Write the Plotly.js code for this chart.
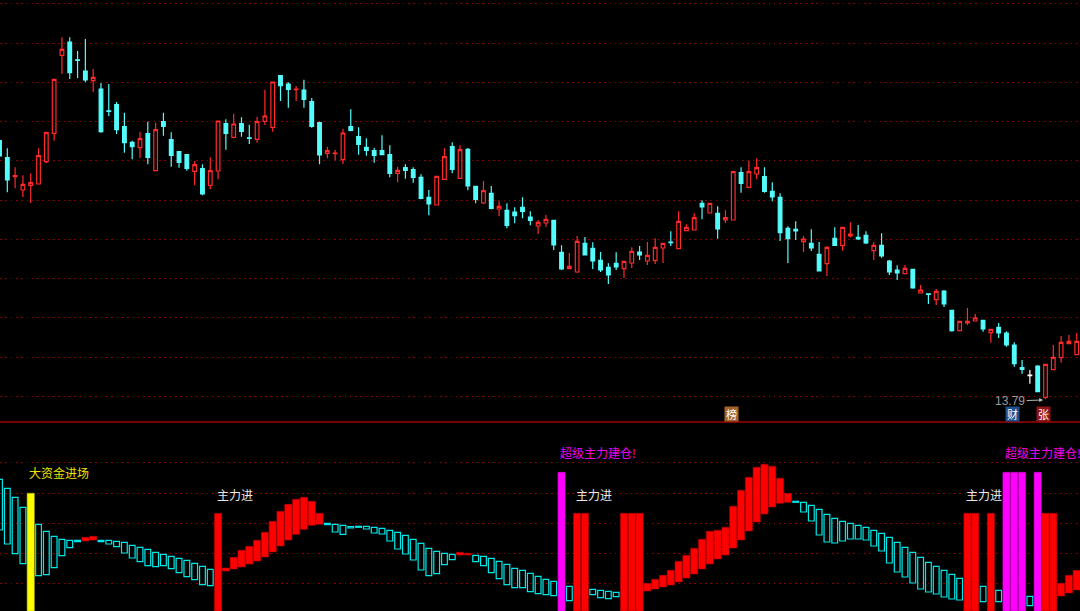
<!DOCTYPE html>
<html><head><meta charset="utf-8">
<script src="https://cdn.plot.ly/plotly-3.0.1.min.js"></script>
<style>html,body{margin:0;padding:0;background:#000;overflow:hidden}#c{width:1080px;height:611px}</style>
</head><body><div id="c"></div>
<script>
const high=[39.50,38.67,36.77,35.97,36.17,38.67,40.33,45.57,49.77,49.77,48.40,49.60,46.60,45.20,45.10,43.30,42.23,39.43,40.33,41.33,41.23,42.23,40.27,38.37,38.07,37.40,37.07,37.77,41.43,41.57,42.13,41.77,41.03,41.83,44.53,45.30,45.97,45.27,44.90,45.53,43.70,41.33,38.83,38.53,40.63,42.57,40.77,39.67,38.73,39.97,38.97,36.83,37.07,36.77,36.07,34.50,35.93,38.67,39.27,38.97,38.70,34.90,35.40,34.90,33.37,33.17,32.77,33.77,32.37,31.50,32.00,31.50,28.97,28.20,29.90,29.80,29.27,28.30,27.17,28.27,27.37,28.77,28.90,29.30,29.67,29.17,30.37,32.37,31.07,32.17,33.47,33.17,32.87,32.47,36.33,36.77,37.40,37.67,36.77,35.27,34.17,30.87,31.37,29.90,30.57,29.30,28.87,30.77,30.77,31.27,31.00,30.37,29.27,30.17,27.50,26.97,27.00,26.60,25.00,24.17,24.60,24.47,22.53,21.37,22.70,22.10,21.50,20.57,21.20,20.37,19.27,17.50,16.50,16.97,17.07,19.00,19.90,20.00,20.20];
const bodyTop=[39.43,37.73,35.93,35.07,35.23,37.93,40.23,45.57,48.57,49.30,47.52,46.40,45.77,44.60,42.42,43.03,40.83,39.27,39.63,40.13,40.53,41.33,39.53,38.33,38.03,37.03,36.63,36.43,41.40,41.13,41.10,41.13,39.72,41.33,41.90,45.30,45.93,45.10,44.60,44.50,43.33,41.23,38.43,38.20,40.20,40.83,39.83,38.77,38.43,38.43,38.03,36.47,36.73,36.53,35.77,33.77,35.87,37.83,38.83,38.53,38.57,34.87,34.43,34.17,32.87,32.47,32.30,32.77,31.80,31.27,31.57,31.47,28.27,26.87,29.37,29.17,28.67,27.47,26.77,27.17,27.37,28.37,28.30,27.97,28.77,29.17,29.30,31.37,30.77,31.73,33.17,33.17,32.17,31.73,36.33,36.23,36.33,36.73,35.83,34.37,33.77,30.67,30.57,29.60,29.17,28.07,28.77,29.67,30.77,30.10,29.77,29.97,28.97,28.97,27.40,26.50,26.67,26.57,24.50,24.12,24.37,24.40,22.47,21.37,21.37,21.70,21.47,20.57,20.77,20.20,19.00,16.73,16.00,16.90,17.07,17.77,19.27,19.37,19.37];
const bodyBottom=[37.90,35.50,35.83,34.50,34.97,35.10,37.33,40.17,47.97,46.23,47.47,45.50,45.43,40.33,42.37,40.53,39.23,38.83,38.73,37.77,36.43,40.87,37.97,37.27,36.67,36.37,34.10,34.97,36.40,40.17,39.77,40.37,39.67,39.57,41.37,40.77,44.93,44.57,44.54,43.57,40.87,38.00,38.17,38.14,37.53,40.47,39.07,38.47,37.97,38.03,36.17,36.17,36.47,35.77,33.67,33.10,33.00,35.57,36.57,35.67,34.90,33.57,33.20,32.67,32.60,30.97,31.93,32.37,31.47,30.90,31.20,29.00,26.60,26.63,26.30,28.00,27.40,26.50,26.00,26.80,26.63,27.20,28.00,27.40,27.43,28.70,29.24,28.63,30.43,30.50,32.80,32.20,30.60,31.50,31.50,35.17,34.77,36.10,34.37,33.80,30.23,29.63,30.40,29.33,28.70,26.40,27.13,28.97,28.93,29.90,29.60,29.20,28.43,27.90,26.30,26.20,26.13,24.70,24.20,24.06,23.53,23.10,20.43,20.43,21.20,21.40,20.60,20.23,20.20,19.00,17.13,16.57,15.94,14.33,13.77,16.53,17.73,19.13,18.03];
const low=[37.80,34.27,34.67,33.80,33.20,35.10,37.17,39.43,46.10,45.60,45.70,45.30,44.30,40.23,41.90,40.10,38.23,37.57,37.70,37.07,36.40,39.93,36.83,36.73,36.43,34.97,33.97,34.57,35.57,38.53,39.67,39.83,39.10,39.23,41.00,40.33,43.40,42.73,43.40,42.73,40.73,37.07,37.67,37.47,37.10,40.37,38.03,37.93,37.23,37.97,35.77,35.27,35.63,35.23,33.57,31.97,33.00,35.50,36.17,35.63,34.47,33.17,33.10,32.57,31.87,30.67,31.17,31.67,30.97,30.10,30.80,28.50,26.50,26.60,26.23,27.97,26.60,26.30,25.10,26.50,25.70,26.70,27.50,27.00,27.10,27.20,28.90,28.60,30.40,30.47,31.57,32.17,29.63,31.20,31.47,34.23,34.67,35.57,34.23,33.37,29.40,27.20,29.50,28.30,28.40,26.37,25.90,28.90,28.43,29.77,29.50,29.10,27.50,27.73,26.00,25.50,26.10,24.63,24.17,23.10,23.00,22.80,20.33,20.40,21.00,21.37,20.33,19.23,19.70,18.83,16.83,16.13,15.13,14.30,13.57,16.50,17.23,19.07,17.97];
const risingDays=[2,3,4,5,6,7,8,12,18,20,25,27,28,30,33,34,35,38,42,43,44,51,56,57,59,62,64,69,70,73,74,80,81,83,84,85,87,88,89,91,93,94,96,97,103,106,108,109,112,116,118,120,123,124,125,127,134,135,136,137,138];
const whiteDay=132;
const indTop=[131.7,122.7,113.7,103.7,117.7,86.7,79.7,74.7,71.7,70.7,70.7,73.7,74.7,70.7,70.7,69.7,68.7,65.7,63.7,61.7,58.7,56.7,54.7,52.7,50.7,47.7,44.7,41.7,97.7,43,53.7,60.7,64.7,70.7,78.7,89.7,99.7,106.7,111.7,113.7,109.7,97.7,87.7,86.7,85.7,84.3,84.7,84.7,83.7,82.7,80.7,78.7,75.7,71.7,67.7,62.7,59.7,57.7,56.7,58.7,57.7,55.7,54.7,52.7,49.7,46.7,42.7,40.7,37.7,34.7,31.7,29.7,138.7,24.7,97.7,97.7,21.7,20.7,19.7,18.7,97.7,97.7,97.7,27.7,31.7,35.7,40.7,49.7,55.7,62.7,71.7,79.7,80.7,83.7,104.7,120.7,133.7,143.7,146.7,144.7,132.7,117.7,109.7,108.7,105.7,101.7,96.7,92.7,89.7,87.7,85.7,83.7,80.7,77.7,73.7,68.7,63.7,58.7,53.7,48.7,44.7,40.7,36.7,32.7,97.7,97.7,24.7,97.7,20.7,138.7,138.7,138.7,14.7,138.7,97.7,97.7,27.7,35.7,40.7];
const indBottom=[81,67,57.3,47.3,0,35.3,36.3,43.3,55.3,63.3,69.3,70,71,69.3,67,64.3,58,53,49.3,45.3,44.3,45.3,42.3,38.3,34.3,31.3,26.3,25.3,0,40,42,44,47,50,54,59,65,71,76.7,81.7,85.7,86.7,86.3,79,76.7,83,83.7,82,78,77,70,62,57,51,41,35.3,37.3,46.3,51.3,56,56,49.3,45.3,38.3,32.3,26.3,23.3,23.3,19.3,17.3,16.3,15.3,0,10.3,0,0,16.3,13.3,12.3,14.3,0,0,0,20,22,24,26,29,33,37,42,47,52,56,63,71,80,89,97,104,107.7,108.7,108.7,99,90,76,69,68,70,72,72,71,65,60,48,39,34,28,22,19,17,14,12,11,0,0,9.3,0,9.3,0,0,0,5.3,0,0,0,15,18,21];
const indRed=[11,12,28,29,30,31,32,33,34,35,36,37,38,39,40,41,59,60,74,75,80,81,82,83,84,85,86,87,88,89,90,91,92,93,94,95,96,97,98,99,100,101,124,125,127,134,135,136,137,138];
const indMagenta=[72,129,130,131,133];
const indYellow=[4];
const priceGrid=[53.15,49.17,45.27,41.40,37.43,33.50,29.60,25.67,21.75,17.80,13.87];
const indGrid=[148.3,117.3,87.3,57.7,27.7];
const lowLabel='13.79';
const lowLabelIndex=133.7, lowLabelPrice=13.5;
const signals=[['大资金进场',3.53,139,'#e6e600'],['主力进',27.61,117,'#e8e8e8'],['主力进',73.6,117,'#e8e8e8'],['主力进',123.55,117,'#e8e8e8'],['超级主力建仓!',71.55,159,'#ee00ee'],['超级主力建仓!',128.55,159,'#ee00ee']];
const badges=[['榜',93.75,'#a5622a'],['财',129.75,'#1d4f8c'],['张',133.74,'#8f1616']];
const badgePrice=12.1;

const RED='#ff2a2a',CYAN='#54fcfc',FONT='"Noto Sans CJK SC","Liberation Sans",sans-serif';
const idx=high.map((_,i)=>i);
const isUp=i=>risingDays.includes(i);
const openOf=i=>isUp(i)?bodyBottom[i]:bodyTop[i];
const closeOf=i=>isUp(i)?bodyTop[i]:bodyBottom[i];
const main=idx.filter(i=>i!==whiteDay);
const candles={type:'candlestick',x:main,open:main.map(openOf),high:main.map(i=>high[i]),low:main.map(i=>low[i]),close:main.map(closeOf),
  xaxis:'x',yaxis:'y',whiskerwidth:0,hoverinfo:'skip',showlegend:false,
  increasing:{line:{color:RED,width:1.2},fillcolor:'#000'},
  decreasing:{line:{color:CYAN,width:1.2},fillcolor:CYAN}};
const white={type:'candlestick',x:[whiteDay],open:[bodyTop[whiteDay]],high:[high[whiteDay]],low:[low[whiteDay]],close:[bodyBottom[whiteDay]],
  xaxis:'x',yaxis:'y',whiskerwidth:0,hoverinfo:'skip',showlegend:false,
  decreasing:{line:{color:'#fff',width:1.2},fillcolor:'#fff'},increasing:{line:{color:'#fff',width:1.2},fillcolor:'#fff'}};
const special=[...indRed,...indMagenta,...indYellow];
const cy=idx.filter(i=>!special.includes(i));
function bars(list,fill,line,lw,w){return {type:'bar',x:list,y:list.map(i=>indTop[i]-indBottom[i]),base:list.map(i=>indBottom[i]),width:w,
  xaxis:'x',yaxis:'y2',hoverinfo:'skip',showlegend:false,marker:{color:fill,line:{color:line,width:lw}}};}
const traces=[candles,white,
  bars(cy,'rgba(0,0,0,0)','#00e8e8',1.2,0.74),
  bars(indRed,'#ff0000','#b00000',0.6,0.92),
  bars(indMagenta,'#ff00ff','#c000c0',0.6,0.92),
  bars(indYellow,'#ffff00','#c0c000',0.6,0.92)];
const gridStyle={showgrid:true,griddash:'1.6px,3.7px',gridcolor:'#8a0000',gridwidth:1,zeroline:false,showticklabels:false,showline:false,ticks:'',tickmode:'array'};
const annotations=[
 ...signals.map(s=>({text:s[0],x:s[1],y:s[2],xref:'x',yref:'y2',xanchor:'left',yanchor:'middle',showarrow:false,font:{family:FONT,size:12,color:s[3]}})),
 {text:lowLabel,x:lowLabelIndex,y:lowLabelPrice,xref:'x',yref:'y',ax:-33,ay:1,axref:'pixel',ayref:'pixel',showarrow:true,arrowhead:2,arrowsize:0.8,arrowwidth:1,arrowcolor:'#b8b8b8',font:{family:'"Liberation Sans",sans-serif',size:12,color:'#9a9a9a'}},
 ...badges.map(b=>({text:b[0],x:b[1],y:badgePrice,xref:'x',yref:'y',xanchor:'center',yanchor:'middle',showarrow:false,width:13,height:14,bgcolor:b[2],borderpad:0,font:{family:FONT,size:11,color:'#fff'}}))
];
const layout={width:1080,height:611,margin:{l:0,r:0,t:0,b:0,pad:0},paper_bgcolor:'#000',plot_bgcolor:'#000',showlegend:false,boxgap:0.33,barmode:'overlay',
 xaxis:{range:[0.064,138.42],rangeslider:{visible:false},showgrid:false,zeroline:false,showticklabels:false,showline:false,ticks:'',anchor:'y2'},
 yaxis:{...gridStyle,domain:[189/611,1],range:[11.3,53.5],tickvals:priceGrid},
 yaxis2:{...gridStyle,domain:[0,189/611],range:[0,189],tickvals:indGrid},
 shapes:[{type:'line',xref:'paper',yref:'paper',x0:0,x1:1,y0:189/611,y1:189/611,line:{color:'#a00000',width:1.5}}],
 annotations};
Plotly.newPlot('c',traces,layout,{staticPlot:true,displayModeBar:false});
</script></body></html>
